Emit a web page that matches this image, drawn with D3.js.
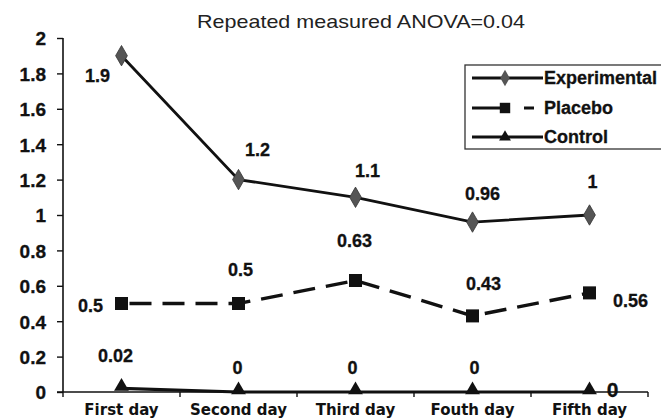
<!DOCTYPE html>
<html><head><meta charset="utf-8">
<script src="https://cdn.jsdelivr.net/npm/d3@7"></script>
<style>body{margin:0;background:#fff}svg{display:block}text{font-family:"Liberation Sans",Arial,sans-serif}</style>
</head><body><svg id="c" width="661" height="419"></svg>
<script>
const categories = ["First day","Second day","Third day","Fouth day","Fifth day"];
const experimental = [1.9,1.2,1.1,0.96,1];
const placebo = [0.5,0.5,0.63,0.43,0.56];
const control = [0.02,0,0,0,0];
const expLabels = ["1.9","1.2","1.1","0.96","1"];
const plaLabels = ["0.5","0.5","0.63","0.43","0.56"];
const conLabels = ["0.02","0","0","0","0"];
const yTicks = [0,0.2,0.4,0.6,0.8,1,1.2,1.4,1.6,1.8,2];
const title = "Repeated measured ANOVA=0.04";

// label offsets (layout): [dx from point, baseline dy from point]
const expOff = [[-24,26],[19,-24],[12,-20],[10,-22],[3,-27]];
const plaOff = [[-31,8],[2,-28],[-1,-33],[11,-26],[41,14]];
const conOff = [[-6,-26],[-1,-18],[-3,-18],[2,-18],[23,5]];

const svg = d3.select("#c");
const x = d3.scaleBand().domain(categories).range([63,648]);
const y = d3.scaleLinear().domain([0,2]).range([392,38]);
const cx = d => x(d)+x.bandwidth()/2;

// title
svg.append("text").attr("x",361).attr("y",28).attr("text-anchor","middle")
  .attr("font-size",19).attr("fill","#222").attr("textLength",328).attr("lengthAdjust","spacingAndGlyphs").text(title);

// y axis
const ya = svg.append("g").attr("transform","translate(63,0)")
  .call(d3.axisLeft(y).tickValues(yTicks).tickSize(6).tickFormat(d=>d3.format("~g")(d)));
ya.select(".domain").attr("stroke","#111").attr("stroke-width",1.6).attr("d","M0,"+y(2)+"V"+y(0));
ya.selectAll(".tick line").attr("stroke","#111").attr("stroke-width",1.4);
ya.selectAll(".tick text").attr("font-size",19).attr("font-weight","bold").attr("fill","#111")
  .attr("stroke","#111").attr("stroke-width",0.3).attr("x",-17).attr("dy","0.36em");

// x axis
const xa = svg.append("g").attr("transform","translate(0,"+y(0)+")");
xa.append("line").attr("x1",57).attr("x2",648).attr("stroke","#111").attr("stroke-width",1.6);
const bounds = categories.map(c=>x(c)).concat([x.range()[1]]);
xa.selectAll("line.tk").data(bounds).join("line").attr("class","tk")
  .attr("x1",d=>d).attr("x2",d=>d).attr("y1",0).attr("y2",5).attr("stroke","#111").attr("stroke-width",1.4);
xa.selectAll("text").data(categories).join("text").attr("x",d=>cx(d)).attr("y",23)
  .attr("text-anchor","middle").attr("font-size",15).attr("font-weight","bold").attr("fill","#111")
  .style("font-family","'DejaVu Sans',sans-serif").text(d=>d);

const line = d3.line().x((d,i)=>cx(categories[i])).y(d=>y(d));

// control
svg.append("path").datum(control).attr("d",line).attr("fill","none").attr("stroke","#111").attr("stroke-width",3.2);
// placebo
svg.append("path").datum(placebo).attr("d",line).attr("fill","none").attr("stroke","#111").attr("stroke-width",3.4).attr("stroke-dasharray","22,11").attr("stroke-dashoffset",-8);
// experimental
svg.append("path").datum(experimental).attr("d",line).attr("fill","none").attr("stroke","#111").attr("stroke-width",2.8);

const tri = d3.symbol().type(d3.symbolTriangle).size(95);
const sq = d3.symbol().type(d3.symbolSquare).size(170);
const dia = d3.symbol().type(d3.symbolDiamond).size(120);

svg.selectAll("path.ct").data(control).join("path").attr("class","ct").attr("d",tri)
  .attr("transform",(d,i)=>`translate(${cx(categories[i])},${y(d)-2})`).attr("fill","#111");
svg.selectAll("path.pl").data(placebo).join("path").attr("class","pl").attr("d",sq)
  .attr("transform",(d,i)=>`translate(${cx(categories[i])},${y(d)})`).attr("fill","#111");
svg.selectAll("path.ex").data(experimental).join("path").attr("class","ex").attr("d",dia)
  .attr("transform",(d,i)=>`translate(${cx(categories[i])},${y(d)})`).attr("fill","#555").attr("stroke","#333").attr("stroke-width",0.8);

function labels(vals,labs,off,cls){
  svg.selectAll("text."+cls).data(vals).join("text").attr("class",cls)
    .attr("x",(d,i)=>cx(categories[i])+off[i][0]).attr("y",(d,i)=>y(d)+off[i][1])
    .attr("text-anchor","middle").attr("font-size",18).attr("font-weight","bold").attr("fill","#111")
    .attr("stroke","#111").attr("stroke-width",0.3)
    .text((d,i)=>labs[i]);
}
labels(experimental,expLabels,expOff,"el");
labels(placebo,plaLabels,plaOff,"pl2");
labels(control,conLabels,conOff,"cl");
svg.selectAll("text.cl").filter((d,i)=>i===4).attr("font-size",21);

// legend
const lg = svg.append("g");
lg.append("rect").attr("x",465).attr("y",65).attr("width",205).attr("height",84).attr("fill","#fff").attr("stroke","#333").attr("stroke-width",1.3);
const legend = [
  {name:"Experimental", sym:dia, fill:"#555", dash:null, y:78},
  {name:"Placebo", sym:sq, fill:"#111", dash:"38,14,10", y:108},
  {name:"Control", sym:tri, fill:"#111", dash:null, y:137}
];
legend.forEach(l=>{
  lg.append("line").attr("x1",472).attr("x2",543).attr("y1",l.y).attr("y2",l.y).attr("stroke","#111").attr("stroke-width",3)
    .attr("stroke-dasharray",l.dash);
  lg.append("path").attr("d",l.sym).attr("fill",l.fill).attr("transform",`translate(505,${l.y}) scale(0.8)`);
  lg.append("text").attr("x",544).attr("y",l.y+6).attr("font-size",18).attr("font-weight","bold").attr("fill","#111")
    .attr("stroke","#111").attr("stroke-width",0.3).text(l.name);
});
</script></body></html>
